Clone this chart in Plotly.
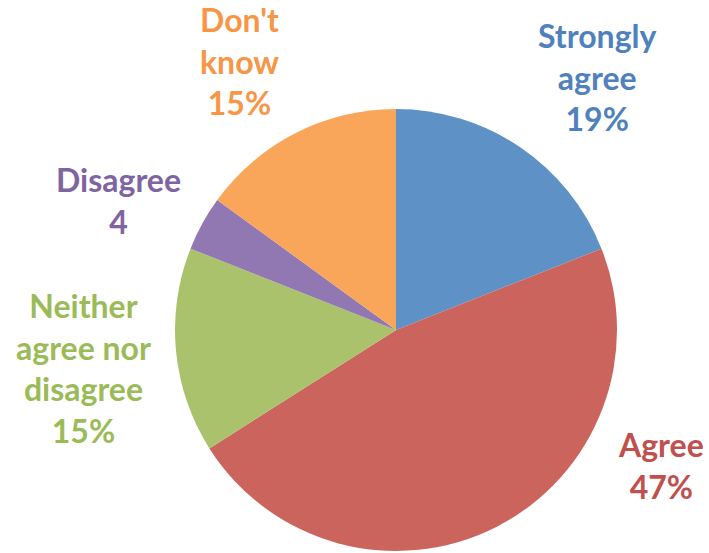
import plotly.graph_objects as go

categories = ["Strongly agree", "Agree", "Neither agree nor disagree", "Disagree", "Don't know"]
values = [19, 47, 15, 4, 15]
label_lines = ["Strongly<br>agree", "Agree", "Neither<br>agree nor<br>disagree", "Disagree", "Don't<br>know"]
value_labels = ["19%", "47%", "15%", "4", "15%"]

slice_colors = ["#5E91C6", "#CC645E", "#AAC26C", "#9178B2", "#F9A55A"]
text_colors = ["#4F81BD", "#C0504D", "#9BBB59", "#8064A2", "#F79646"]
# label centres in pixels (x, y from top)
label_pos = [(597, 77), (661, 465), (83, 368), (119, 200), (240, 61)]

W, H = 709, 553

fig = go.Figure(go.Pie(
    labels=categories,
    values=values,
    sort=False,
    direction="clockwise",
    rotation=0,
    marker=dict(colors=slice_colors, line=dict(width=0)),
    textinfo="none",
    hoverinfo="label+percent",
    showlegend=False,
    domain=dict(x=[175 / W, 617 / W], y=[1 - 551 / H, 1 - 109 / H]),
))

for lab, val, col, (px, py) in zip(label_lines, value_labels, text_colors, label_pos):
    fig.add_annotation(
        x=px / W, y=1 - py / H, xref="paper", yref="paper",
        text=f"<b>{lab}<br>{val}</b>",
        showarrow=False, xanchor="center", yanchor="middle",
        font=dict(family="Lato", size=32, color=col),
        align="center",
    )

fig.update_layout(
    width=W, height=H,
    margin=dict(l=0, r=0, t=0, b=0),
    paper_bgcolor="white",
    plot_bgcolor="white",
)

fig.write_html("out.html")
